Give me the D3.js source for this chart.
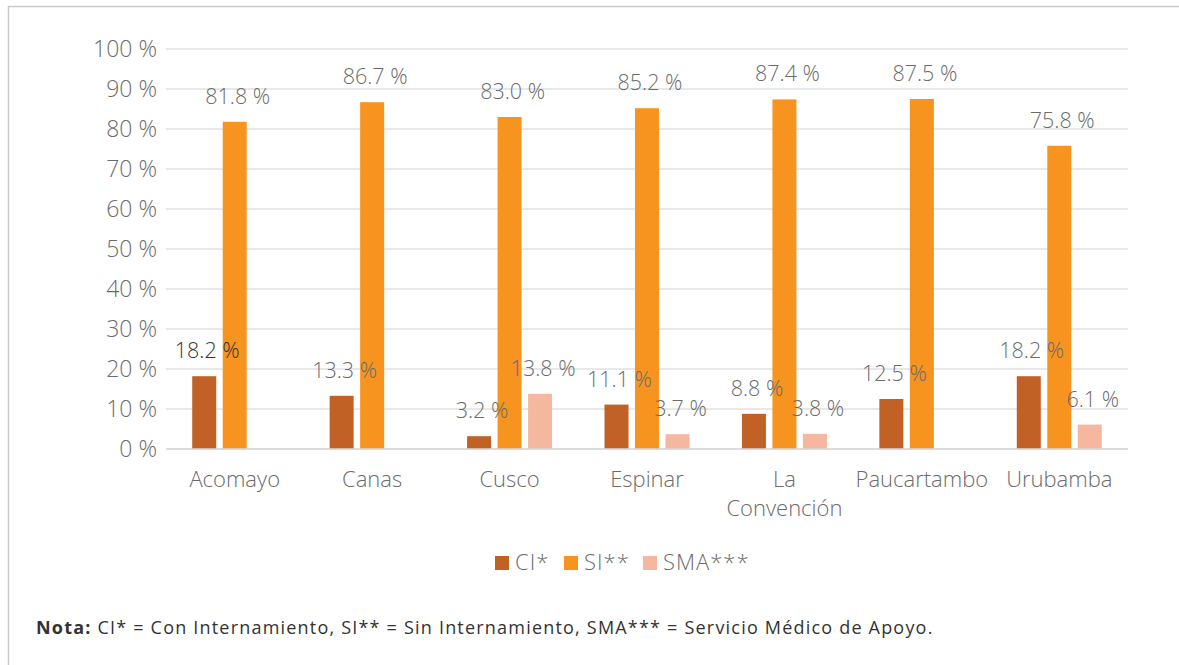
<!DOCTYPE html>
<html><head><meta charset="utf-8">
<script src="https://cdn.jsdelivr.net/npm/d3@7"></script>
<style>
body{margin:0;background:#fff;}
svg{display:block;font-family:"Open Sans",sans-serif;}
</style></head>
<body><svg id="c" width="1179" height="665"></svg>
<script>
const categories = ["Acomayo","Canas","Cusco","Espinar","La Convención","Paucartambo","Urubamba"];
const seriesNames = ["CI*","SI**","SMA***"];
const ciValues = [18.2,13.3,3.2,11.1,8.8,12.5,18.2];
const siValues = [81.8,86.7,83.0,85.2,87.4,87.5,75.8];
const smaValues = [null,null,13.8,3.7,3.8,null,6.1];
const yTicks = [0,10,20,30,40,50,60,70,80,90,100];
const colors = ["#c26126","#f7941f","#f5b7a0"];
const txt = "#6b6b6b";

const svg = d3.select("#c");
svg.append("path").attr("d","M8.5,670 V6.5 H1185").attr("fill","none").attr("stroke","#c9c9c9").attr("stroke-width",1.5);

const x0 = d3.scaleBand().domain(categories).range([166,1128]).padding(0);
const y = d3.scaleLinear().domain([0,100]).range([449,49]);
const x1 = d3.scaleBand().domain(seriesNames).range([-42.5,42.5]).paddingInner(0.213);

svg.append("g").selectAll("line").data(yTicks).join("line")
  .attr("x1",166).attr("x2",1128).attr("y1",d=>y(d)).attr("y2",d=>y(d))
  .attr("stroke","#e0e0e0").attr("stroke-width",1.5);
const yAxis = d3.axisLeft(y).tickValues(yTicks).tickFormat(d=>d+" %").tickSize(0).tickPadding(9);
const ya = svg.append("g").attr("transform","translate(166,0)").call(yAxis);
ya.select(".domain").remove();
ya.selectAll("text").attr("font-size",23).attr("font-weight",300).attr("fill",txt).attr("font-family","Open Sans");

const series = [ciValues,siValues,smaValues];
const g = svg.append("g");
series.forEach((vals,si)=>{
  const data = categories.map((c,i)=>({c,v:vals[i]})).filter(d=>d.v!=null);
  g.selectAll(null).data(data).join("rect")
    .attr("x",d=>x0(d.c)+x0.bandwidth()/2+x1(seriesNames[si]))
    .attr("width",x1.bandwidth())
    .attr("y",d=>y(d.v)).attr("height",d=>y(0)-y(d.v))
    .attr("fill",colors[si]);
});
svg.append("line").attr("x1",166).attr("x2",1128).attr("y1",449).attr("y2",449).attr("stroke","#d9d9d9").attr("stroke-width",1.5);

series.forEach((vals,si)=>{
  const data = categories.map((c,i)=>({c,v:vals[i],i})).filter(d=>d.v!=null);
  g.selectAll(null).data(data).join("text")
    .attr("x",d=>x0(d.c)+x0.bandwidth()/2+x1(seriesNames[si])+x1.bandwidth()/2+3)
    .attr("y",d=>y(d.v)-18)
    .attr("text-anchor","middle").attr("font-size",21.5).attr("font-weight",300)
    .attr("fill",d=>(si===0&&d.i===0)?"#333":txt)
    .text(d=>d.v.toFixed(1)+" %");
});

const xl = svg.append("g");
categories.forEach(c=>{
  const words = c==="La Convención" ? ["La","Convención"] : [c];
  const t = xl.append("text").attr("text-anchor","middle").attr("font-size",22).attr("font-weight",300).attr("fill",txt)
    .attr("x",x0(c)+x0.bandwidth()/2).attr("y",487);
  words.forEach((w,k)=>t.append("tspan").attr("x",x0(c)+x0.bandwidth()/2).attr("dy",k?29:0).text(w));
});

const legX = [495,564,643];
seriesNames.forEach((s,i)=>{
  svg.append("rect").attr("x",legX[i]).attr("y",556).attr("width",14).attr("height",14).attr("fill",colors[i]);
  svg.append("text").attr("x",legX[i]+20).attr("y",570).attr("font-size",22).attr("font-weight",300).attr("letter-spacing",1).attr("fill",txt).text(s);
});

const nt = svg.append("text").attr("x",36).attr("y",634).attr("font-size",18).attr("letter-spacing",1.2).attr("fill","#333");
nt.append("tspan").attr("font-weight","bold").text("Nota:");
nt.append("tspan").text(" CI* = Con Internamiento, SI** = Sin Internamiento, SMA*** = Servicio Médico de Apoyo.");
</script></body></html>
